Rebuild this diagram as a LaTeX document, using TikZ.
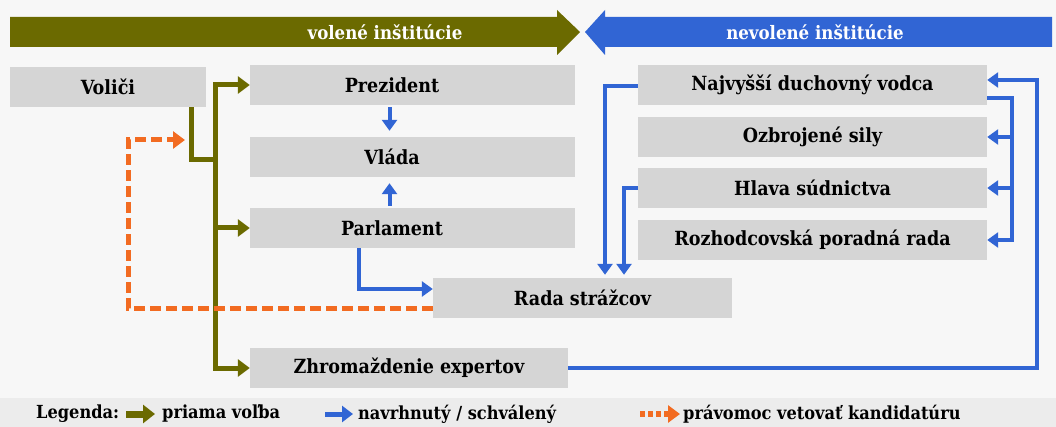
\documentclass[tikz,border=0pt]{standalone}
\usepackage{fontspec}
\setmainfont{DejaVu Serif Condensed}
\usetikzlibrary{arrows.meta}
\definecolor{elected}{HTML}{6B6A00}
\definecolor{proposed}{HTML}{3165D4}
\definecolor{vetoed}{HTML}{F26B21}
\definecolor{boxgray}{HTML}{D5D5D5}
\definecolor{pagegray}{HTML}{F7F7F7}
\definecolor{legendgray}{HTML}{ECECEC}
\begin{document}
\begin{tikzpicture}[x=1pt, y=-1pt,
    box/.style={fill=boxgray, inner sep=0pt, minimum height=40pt,
      font=\bfseries\fontsize{19.5}{22}\selectfont},
    head/.style={text=white, font=\bfseries\fontsize{18.5}{20}\selectfont},
    legend/.style={anchor=west, inner sep=0pt, font=\bfseries\fontsize{18}{20}\selectfont},
    elect/.style={draw=elected, line width=5pt, -{Triangle[length=12pt,width=17pt]}},
    prop/.style={draw=proposed, line width=4pt, -{Triangle[length=11pt,width=15pt]}},
    veto/.style={draw=vetoed, line width=5pt, dash pattern=on 11pt off 5pt,
      -{Triangle[length=12pt,width=17pt]}}]
    \fill[pagegray] (0,0) rectangle (1056,427);
    \useasboundingbox (0,0) rectangle (1056,427);
    \fill[legendgray] (0,398) rectangle (1056,427);
    \fill[elected] (10,17) -- (557,17) -- (557,10) -- (580,32) -- (557,55) -- (557,47) -- (10,47) -- cycle;
    \fill[proposed] (1052,17) -- (605,17) -- (605,10) -- (585,32) -- (605,55) -- (605,47) -- (1052,47) -- cycle;
    \node[head] (volene) at (385,32) {volené inštitúcie};
    \node[head] (nevolene) at (815,32) {nevolené inštitúcie};
    \node[box, minimum width=196pt] (volici) at (108,87) {Voliči};
    \node[box, minimum width=325pt] (prezident) at (412.5,85) {\hspace*{-41pt}Prezident};
    \node[box, minimum width=325pt] (vlada) at (412.5,157) {\hspace*{-41pt}Vláda};
    \node[box, minimum width=325pt] (parlament) at (412.5,228) {\hspace*{-41pt}Parlament};
    \node[box, minimum width=299pt] (rada) at (582.5,298) {Rada strážcov};
    \node[box, minimum width=318pt] (zhrom) at (409,368) {Zhromaždenie expertov};
    \node[box, minimum width=349pt] (vodca) at (812.5,85) {Najvyšší duchovný vodca};
    \node[box, minimum width=349pt] (sily) at (812.5,137) {Ozbrojené sily};
    \node[box, minimum width=349pt] (sudnictvo) at (812.5,188) {Hlava súdnictva};
    \node[box, minimum width=349pt] (poradna) at (812.5,240) {Rozhodcovská poradná rada};
    \coordinate (trunk) at (215,160);
    \coordinate (vetoend) at (185,140);
    \coordinate (fan) at (1012,160);
    \coordinate (loop) at (1037,160);
    \draw[elect, -] ([xshift=83pt]volici.south) |- (trunk);
    \draw[elect] (trunk |- zhrom.west) |- (prezident.west);
    \draw[elect] (trunk |- prezident.west) |- (zhrom.west);
    \draw[elect] (trunk |- parlament.west) -- (parlament.west);
    \draw[veto] ([yshift=-10pt]rada.west) -| ([xshift=-57pt]vetoend) -- (vetoend);
    \draw[prop, shorten <=2pt, shorten >=6pt] ([xshift=-23pt]prezident.south) -- ([xshift=-23pt]vlada.north);
    \draw[prop, shorten <=2pt, shorten >=6pt] ([xshift=-23pt]parlament.north) -- ([xshift=-23pt]vlada.south);
    \draw[prop] ([xshift=-54pt]parlament.south) |- ([yshift=9pt]rada.west);
    \draw[prop, shorten >=3pt] ([yshift=-1pt]vodca.west) -| ([xshift=22.5pt]rada.north);
    \draw[prop, shorten >=3pt] (sudnictvo.west) -| ([xshift=41.5pt]rada.north);
    \draw[prop] ([yshift=-13pt]vodca.east) -| (fan |- poradna.east) -- (poradna.east);
    \draw[prop] (fan |- sily.east) -- (sily.east);
    \draw[prop] (fan |- sudnictvo.east) -- (sudnictvo.east);
    \draw[prop] (zhrom.east) -| (loop |- vodca.east) |- ([yshift=5pt]vodca.east);
    \node[legend] (lglabel) at (36,414) {Legenda:};
    \node[legend] (lgelect) at (162,414) {priama voľba};
    \node[legend] (lgprop) at (358,414) {navrhnutý / schválený};
    \node[legend] (lgveto) at (683,414) {právomoc vetovať kandidatúru};
    \draw[elected, line width=7pt, -{Triangle[length=12pt,width=18pt]}] ([xshift=-36pt]lgelect.west) -- ([xshift=-7pt]lgelect.west);
    \draw[proposed, line width=5pt, -{Triangle[length=11pt,width=16pt]}] ([xshift=-33pt]lgprop.west) -- ([xshift=-5pt]lgprop.west);
    \draw[vetoed, line width=6pt, dash pattern=on 5pt off 3pt, -{Triangle[length=12pt,width=17pt]}] ([xshift=-43pt]lgveto.west) -- ([xshift=-3pt]lgveto.west);
\end{tikzpicture}
\end{document}
